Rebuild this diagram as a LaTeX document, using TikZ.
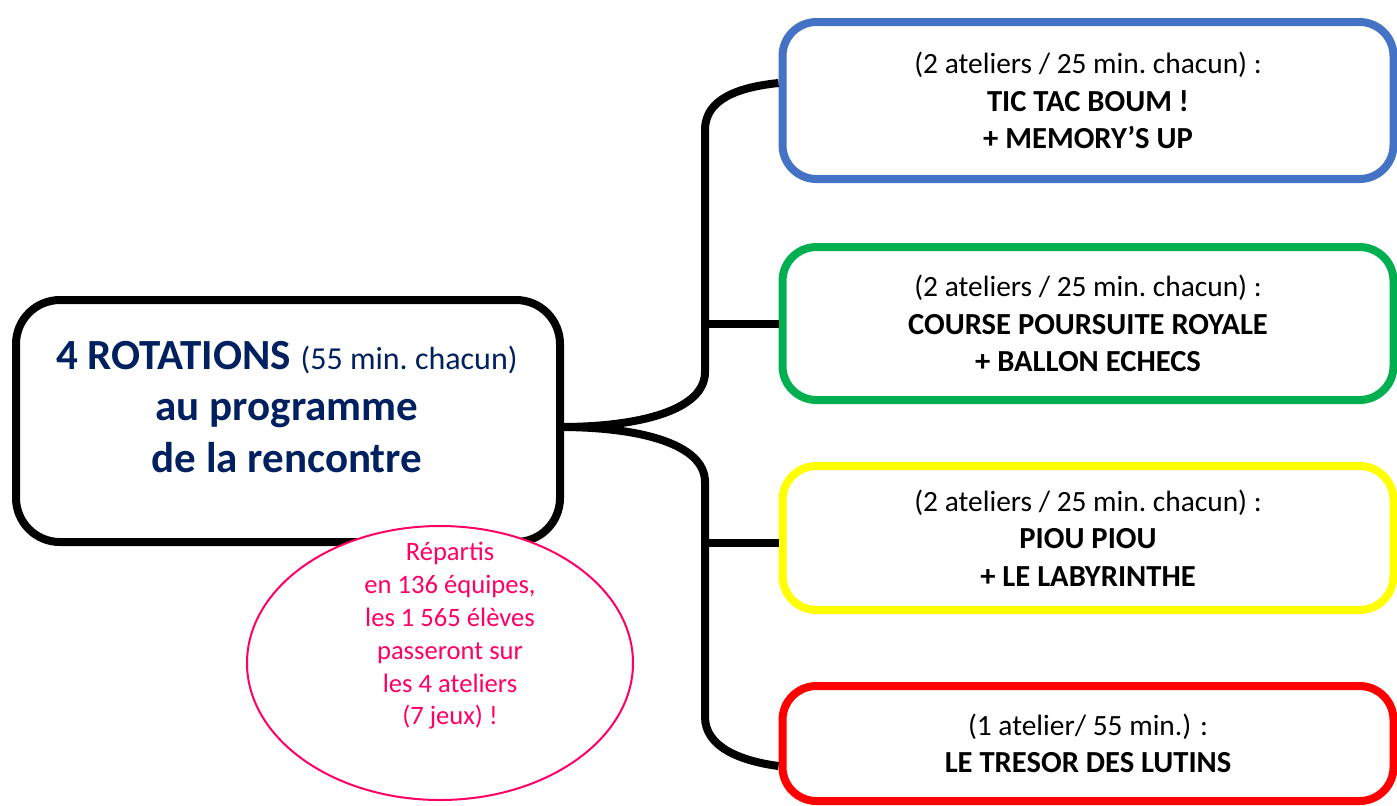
\documentclass[tikz,border=0pt]{standalone}
\usepackage{fontspec}
\setmainfont{Carlito}
\usetikzlibrary{positioning, shapes.geometric}
\definecolor{navy}{RGB}{0,32,96}
\definecolor{rosepink}{RGB}{255,0,102}
\definecolor{bleu}{RGB}{68,114,196}
\definecolor{vert}{RGB}{0,176,80}
\definecolor{jaune}{RGB}{255,255,0}
\definecolor{rouge}{RGB}{255,0,0}
\newcommand{\jeu}[1]{{\fontsize{15.3}{18.7}\selectfont\bfseries #1}}

\begin{document}
\begin{tikzpicture}[x=0.5pt, y=-0.5pt,
    atelier/.style={rectangle, draw, rounded corners=17pt, line width=4pt, minimum width=305.5pt, align=center, font=\fontsize{14.7}{18.7}\selectfont},
    branch/.style={line width=4pt}]
  \useasboundingbox (0,0) rectangle (1397,805);

  % Nodes
  \node[atelier, draw=bleu, minimum height=78.5pt] (tictac) at (1088,100.5) {(2 ateliers / 25 min.\ chacun) :\\ \jeu{TIC TAC BOUM !}\\ \jeu{+ MEMORY’S UP}};
  \node[atelier, draw=vert, minimum height=76.5pt] (course) at (1088,323.5) {(2 ateliers / 25 min.\ chacun) :\\ \jeu{COURSE POURSUITE ROYALE}\\ \jeu{+ BALLON ECHECS}};
  \node[atelier, draw=jaune, minimum height=72pt] (piou) at (1088,538) {(2 ateliers / 25 min.\ chacun) :\\ \jeu{PIOU PIOU}\\ \jeu{+ LE LABYRINTHE}};
  \node[atelier, draw=rouge, minimum height=57.5pt] (tresor) at (1088,743.5) {(1 atelier/ 55 min.) :\\ \jeu{LE TRESOR DES LUTINS}};

  \coordinate (upbend) at (705,372);
  \coordinate (uptop) at (705,130);
  \coordinate (lowbend) at (705,482);
  \coordinate (lowend) at (705,717);

  % Connectors
  \draw[branch] ([yshift=-3pt]288,421 -| 560,0) .. controls +(80,0) and +(0,38) .. (upbend) -- (uptop)
        .. controls +(0,-32) and +(-38,4) .. ([yshift=8.75pt]tictac.west);
  \draw[branch] ([yshift=-3pt]288,421 -| 560,0) .. controls +(80,0) and +(0,-38) .. (lowbend) -- (lowend)
        .. controls +(0,30) and +(-38,-5) .. ([yshift=-11.25pt]tresor.west);
  \draw[branch] (course.west -| uptop) -- (course.west);
  \draw[branch] ([yshift=-2.5pt]piou.west -| lowend) -- ([yshift=-2.5pt]piou.west);

  \node[rectangle, draw, rounded corners=22pt, line width=4pt, fill=white, minimum width=272pt, minimum height=121pt] (main) at (288,421) {};
  \node[text=navy, align=center, font=\fontsize{21.5}{25.75}\selectfont\bfseries] (maintext) at (287,407)
        {4 ROTATIONS {\mdseries\fontsize{16}{25.75}\selectfont (55 min.\ chacun)}\\ au programme\\ de la rencontre};

  \node[ellipse, draw=rosepink, line width=1pt, fill=white, minimum width=193pt, minimum height=137pt] (note) at (440,663) {};
  \node[text=rosepink, align=center, font=\fontsize{13.3}{16.4}\selectfont] (notetext) at (450,636)
        {Répartis\\ en 136 équipes,\\ les 1 565 élèves\\ passeront sur\\ les 4 ateliers\\ (7 jeux) !};
\end{tikzpicture}
\end{document}
